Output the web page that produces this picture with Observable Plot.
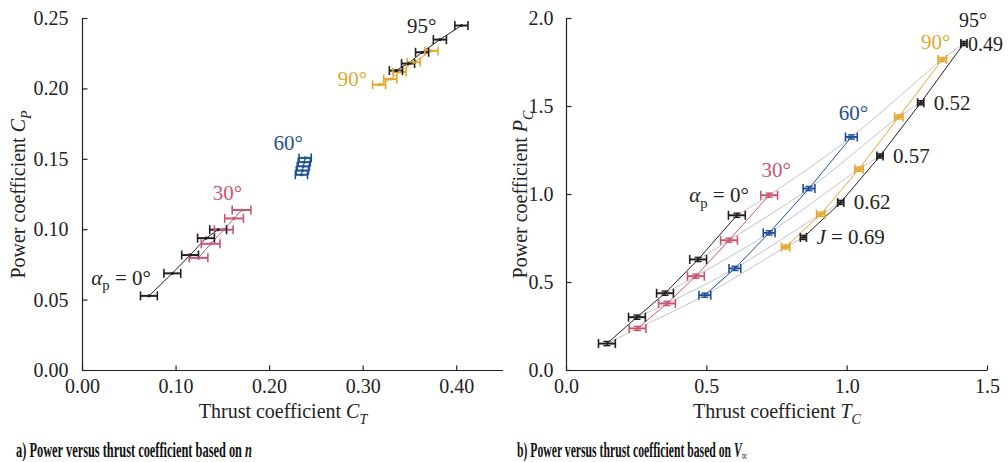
<!DOCTYPE html>
<html><head><meta charset="utf-8">
<script src="https://cdn.jsdelivr.net/npm/d3@7"></script>
<script src="https://cdn.jsdelivr.net/npm/@observablehq/plot@0.6"></script>
<style>
body{margin:0;background:#fff;width:1008px;height:462px;overflow:hidden;position:relative;font-family:"Liberation Serif","Times New Roman",serif;}
#row{display:flex;}
.cap{position:absolute;top:440px;font-weight:bold;font-size:21px;line-height:20px;white-space:nowrap;transform-origin:left center;color:#111;font-family:"Liberation Serif","Times New Roman",serif;}
.cap sub{font-size:13px;vertical-align:-3px;line-height:0;}
</style></head><body>
<div id="row"><div id="a"></div><div id="b"></div></div>
<div class="cap" id="capA"></div><div class="cap" id="capB"></div>
<script>
// ---------- data ----------
const angleLabels = ["α_p = 0°", "30°", "60°", "90°", "95°"];
const seriesColors = ["#231f20", "#c9566e", "#1f4f94", "#e2a72e", "#231f20"];
const jLabels = ["J = 0.69", "0.62", "0.57", "0.52", "0.49"];

// a) based on n
const ct0 = [0.071, 0.096, 0.115, 0.132, 0.145];
const cp0 = [0.053, 0.069, 0.082, 0.094, 0.100];
const ct30 = [0.124, 0.137, 0.151, 0.162, 0.170];
const cp30 = [0.080, 0.090, 0.100, 0.108, 0.114];
const ct60 = [0.234, 0.235, 0.236, 0.237, 0.238];
const cp60 = [0.139, 0.142, 0.145, 0.148, 0.151];
const ct90 = [0.317, 0.329, 0.339, 0.354, 0.373];
const cp90 = [0.203, 0.207, 0.212, 0.219, 0.227];
const ct95 = [0.335, 0.348, 0.363, 0.382, 0.405];
const cp95 = [0.213, 0.218, 0.226, 0.235, 0.245];
const ctErr = [0.009, 0.010, 0.0065, 0.007, 0.007];

// b) based on V∞
const tc0 = [0.144, 0.251, 0.351, 0.469, 0.607];
const pc0 = [0.153, 0.303, 0.439, 0.631, 0.882];
const tc30 = [0.253, 0.358, 0.461, 0.579, 0.722];
const pc30 = [0.239, 0.381, 0.536, 0.740, 0.996];
const tc60 = [0.493, 0.600, 0.722, 0.864, 1.015];
const pc60 = [0.428, 0.580, 0.782, 1.034, 1.327];
const tc90 = [0.781, 0.906, 1.042, 1.184, 1.339];
const pc90 = [0.702, 0.888, 1.144, 1.441, 1.767];
const tc95 = [0.844, 0.977, 1.117, 1.262, 1.416];
const pc95 = [0.756, 0.955, 1.219, 1.521, 1.858];
const tcErr = [0.030, 0.030, 0.021, 0.015, 0.011];
const pcErr = [0.012, 0.012, 0.012, 0.012, 0.012];

const xTicksL = [0, 0.1, 0.2, 0.3, 0.4];
const yTicksL = [0, 0.05, 0.10, 0.15, 0.20, 0.25];
const xTicksR = [0, 0.5, 1.0, 1.5];
const yTicksR = [0, 0.5, 1.0, 1.5, 2.0];

const captionA = "a) Power versus thrust coefficient based on n";
const captionB = "b) Power versus thrust coefficient based on V∞";

// ---------- tables ----------
function table(xs, ys, xe, ye) {
  const rows = [];
  xs.forEach((xa, s) => xa.forEach((x, i) => rows.push({s, i, x, y: ys[s][i], ex: xe[s], ey: ye ? ye[s] : 0, c: seriesColors[s]})));
  return rows;
}
const rowsL = table([ct0, ct30, ct60, ct90, ct95], [cp0, cp30, cp60, cp90, cp95], ctErr);
const rowsR = table([tc0, tc30, tc60, tc90, tc95], [pc0, pc30, pc60, pc90, pc95], tcErr, pcErr);

// ---------- symbols ----------
const sym = (f) => ({draw(ctx, size) { const l = Math.sqrt(size / Math.PI); f(ctx, l); }});
const tickUp = sym((c, l) => { c.moveTo(0, 0); c.lineTo(0, -l); });
const tickRight = sym((c, l) => { c.moveTo(0, 0); c.lineTo(l, 0); });
const vbar = sym((c, l) => { c.moveTo(0, -l); c.lineTo(0, l); });
const hbar = sym((c, l) => { c.moveTo(-l, 0); c.lineTo(l, 0); });

const FS = 21, TFS = 20, LFS = 20;
const FONT = "Liberation Serif";
function axes(xt, yt, xf, yf, padY) {
  return [
    Plot.ruleX([0], {stroke: "#222", strokeWidth: 1.2}),
    Plot.ruleY([0], {stroke: "#222", strokeWidth: 1.2}),
    Plot.dot(xt, {x: d => d, frameAnchor: "bottom", symbol: tickUp, r: 5, stroke: "#222", fill: "none", strokeWidth: 1.2}),
    Plot.dot(yt, {y: d => d, frameAnchor: "left", symbol: tickRight, r: 5, stroke: "#222", fill: "none", strokeWidth: 1.2}),
    Plot.axisX({ticks: xt, tickSize: 0, tickPadding: 8, tickFormat: d3.format(xf), label: null, fontSize: TFS, fill: "#222", fontVariant: "normal"}),
    Plot.axisY({ticks: yt, tickSize: 0, tickPadding: padY, tickFormat: d3.format(yf), label: null, fontSize: TFS, fill: "#222", fontVariant: "normal"})
  ];
}
function bars(rows, withY, capR) {
  const m = [
    Plot.link(rows, {x1: d => d.x - d.ex, x2: d => d.x + d.ex, y1: "y", y2: "y", stroke: "c", strokeWidth: 2}),
    Plot.dot(rows, {x: d => d.x - d.ex, y: "y", symbol: vbar, r: capR, stroke: "c", fill: "none", strokeWidth: 1.6}),
    Plot.dot(rows, {x: d => d.x + d.ex, y: "y", symbol: vbar, r: capR, stroke: "c", fill: "none", strokeWidth: 1.6})
  ];
  if (withY) m.push(
    Plot.link(rows, {x1: "x", x2: "x", y1: d => d.y - d.ey, y2: d => d.y + d.ey, stroke: "c", strokeWidth: 1.6}),
    Plot.dot(rows, {x: "x", y: d => d.y - d.ey, symbol: hbar, r: 3.5, stroke: "c", fill: "none", strokeWidth: 1.4}),
    Plot.dot(rows, {x: "x", y: d => d.y + d.ey, symbol: hbar, r: 3.5, stroke: "c", fill: "none", strokeWidth: 1.4})
  );
  return m;
}
const pick = (rows, s, i) => rows.filter(d => d.s === s && d.i === i);
function lab(rows, s, i, text, opts) {
  return Plot.text(pick(rows, s, i), {x: "x", y: "y", text: () => text, fill: seriesColors[s], fontSize: FS, ...opts});
}
const styleObj = {fontFamily: FONT, fontSize: FS + "px", background: "white", overflow: "visible"};

// ---------- left ----------
const left = Plot.plot({
  width: 504, height: 420, marginLeft: 82, marginRight: 1, marginTop: 18, marginBottom: 50,
  style: styleObj,
  x: {domain: [0, 0.45]}, y: {domain: [0, 0.25]}, color: {type: "identity"},
  marks: [
    ...axes(xTicksL, yTicksL, ".2f", ".2f", 14),
    Plot.line(rowsL, {x: "x", y: "y", z: "s", stroke: "c", strokeWidth: 1}),
    ...bars(rowsL, false, 4.5),
    Plot.dot(rowsL, {x: "x", y: "y", r: 1.6, fill: "c"}),
    lab(rowsL, 0, 0, angleLabels[0], {textAnchor: "end", dx: 2, dy: -18}),
    lab(rowsL, 1, 4, angleLabels[1], {dx: -14, dy: -17}),
    lab(rowsL, 2, 4, angleLabels[2], {dx: -17, dy: -15}),
    lab(rowsL, 3, 0, angleLabels[3], {textAnchor: "end", dx: -12, dy: -5}),
    lab(rowsL, 4, 4, angleLabels[4], {textAnchor: "end", dx: -25, dy: 1}),
    Plot.text(["Thrust coefficient C_T"], {text: d => d, frameAnchor: "bottom", textAnchor: "middle", lineAnchor: "middle", dy: 41, dx: -10, fontSize: LFS, fill: "#222"}),
    Plot.text(["Power coefficient C_P"], {text: d => d, frameAnchor: "left", textAnchor: "middle", lineAnchor: "middle", rotate: -90, dx: -64, fontSize: LFS, fill: "#222"})
  ]
});

// ---------- right ----------
const right = Plot.plot({
  width: 504, height: 420, marginLeft: 62, marginRight: 21, marginTop: 18, marginBottom: 50,
  style: styleObj,
  x: {domain: [0, 1.5]}, y: {domain: [0, 2.0]}, color: {type: "identity"},
  marks: [
    ...axes(xTicksR, yTicksR, ".1f", ".1f", 13),
    Plot.line(rowsR, {x: "x", y: "y", z: "i", stroke: "#c4c4c4", strokeWidth: 1, curve: "catmull-rom"}),
    Plot.line(rowsR, {x: "x", y: "y", z: "s", stroke: "c", strokeWidth: 1}),
    ...bars(rowsR, true, 4.5),
    lab(rowsR, 0, 4, angleLabels[0], {textAnchor: "end", dx: 12, dy: -20}),
    lab(rowsR, 1, 4, angleLabels[1], {dx: 7, dy: -25}),
    lab(rowsR, 2, 4, angleLabels[2], {dx: 2, dy: -24}),
    lab(rowsR, 3, 4, angleLabels[3], {textAnchor: "end", dx: 8, dy: -17}),
    lab(rowsR, 4, 4, angleLabels[4], {dx: 9, dy: -23, fontSize: 20}),
    ...[0, 1, 2, 3].map(i => lab(rowsR, 4, i, jLabels[i], {textAnchor: "start", dx: 13})),
    lab(rowsR, 4, 4, jLabels[4], {textAnchor: "start", dx: 4, dy: 1, fontSize: 20}),
    Plot.text(["Thrust coefficient T_C"], {text: d => d, frameAnchor: "bottom", textAnchor: "middle", lineAnchor: "middle", dy: 41, fontSize: LFS, fill: "#222"}),
    Plot.text(["Power coefficient P_C"], {text: d => d, frameAnchor: "left", textAnchor: "middle", lineAnchor: "middle", rotate: -90, dx: -46, fontSize: LFS, fill: "#222"})
  ]
});

document.getElementById("a").append(left);
document.getElementById("b").append(right);

// ---------- rich text ----------
const rich = {
  "Thrust coefficient C_T": [["Thrust coefficient "], ["C", "i"], ["T", "is"]],
  "Power coefficient C_P": [["Power coefficient "], ["C", "i"], ["P", "is"]],
  "Thrust coefficient T_C": [["Thrust coefficient "], ["T", "i"], ["C", "is"]],
  "Power coefficient P_C": [["Power coefficient "], ["P", "i"], ["C", "is"]],
  "α_p = 0°": [["α", "i"], ["p", "s"], [" = 0°", "r"]],
  "J = 0.69": [["J", "i"], [" = 0.69"]]
};
const NS = "http://www.w3.org/2000/svg";
for (const svg of [left, right]) {
  svg.querySelectorAll("text").forEach(t => {
    t.setAttribute("font-family", FONT);
    t.style.fontFamily = "'Liberation Serif', 'Times New Roman', serif";
    const spec = rich[t.textContent];
    if (!spec) return;
    const fs = parseFloat(getComputedStyle(t).fontSize) || FS;
    t.textContent = "";
    for (const [str, f = ""] of spec) {
      const ts = document.createElementNS(NS, "tspan");
      ts.textContent = str;
      if (f.includes("i")) ts.setAttribute("font-style", "italic");
      if (f.includes("s")) { ts.setAttribute("font-size", (fs * 0.7) + "px"); ts.setAttribute("dy", (fs * 0.28) + "px"); }
      if (f.includes("r")) ts.setAttribute("dy", (-fs * 0.28) + "px");
      t.append(ts);
    }
  });
}

// ---------- captions ----------
function caption(el, str, sub, target, left) {
  el.style.left = left + "px";
  const parts = str.split(" ");
  const last = parts.pop();
  el.append(document.createTextNode(parts.join(" ") + " "));
  const it = document.createElement("i");
  it.textContent = sub ? last.slice(0, -1) : last;
  el.append(it);
  if (sub) { const s = document.createElement("sub"); s.textContent = last.slice(-1); el.append(s); }
  const w = el.getBoundingClientRect().width;
  el.style.transform = `scaleX(${target / w})`;
}
caption(document.getElementById("capA"), captionA, false, 236, 16);
caption(document.getElementById("capB"), captionB, true, 230, 517);
</script>
</body></html>
